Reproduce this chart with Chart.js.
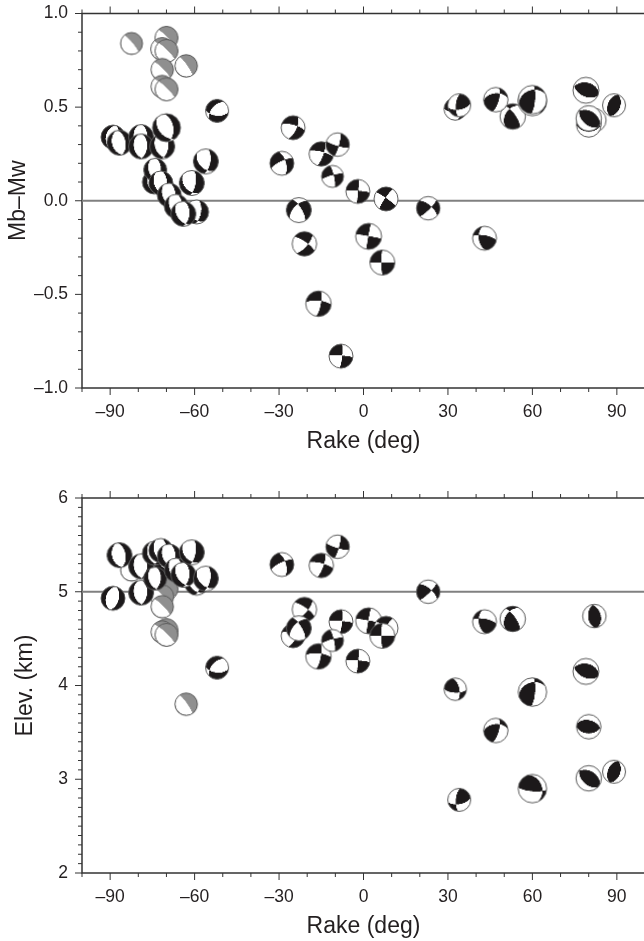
<!DOCTYPE html>
<html>
<head>
<meta charset="utf-8">
<script src="https://cdn.jsdelivr.net/npm/chart.js@4"></script>
<style>
  html, body { margin: 0; padding: 0; background: #fff; overflow: hidden; }
  body { width: 644px; height: 941px; position: relative; }
  canvas { position: absolute; left: 0; }
  #mbChart { top: 0; }
  #elevChart { top: 470px; }
</style>
</head>
<body>
<canvas id="mbChart"></canvas>
<canvas id="elevChart"></canvas>
<script>
// one entry per earthquake, same order in every array (later ones draw on top)
const rake = [
  -82.4, -70, -71.5, -70, -71.5, -71.5, -70, -63,
  -89, -86.7, -79, -79, -71.5, -70, -74.3, -74, -72, -69, -66.5, -59.3, -64, -61, -56, -52,
  -25, -29, -15, -9.2, -2, 1.8, 8, 23, -21, -23, -8, -16, -11, 6.7,
  32.6, 34, 43, 53, 47, 60, 60, 79, 82, 80, 80, 89
];
const mbMw = [
  0.84, 0.87, 0.81, 0.80, 0.70, 0.61, 0.595, 0.72,
  0.34, 0.31, 0.34, 0.29, 0.29, 0.39, 0.10, 0.165, 0.095, 0.03, -0.03, -0.06, -0.07, 0.095, 0.21, 0.48,
  0.39, 0.20, 0.25, 0.30, 0.05, -0.19, 0.01, -0.04, -0.23, -0.05, -0.83, -0.55, 0.13, -0.33,
  0.49, 0.51, -0.20, 0.45, 0.54, 0.53, 0.54, 0.59, 0.43, 0.405, 0.44, 0.51
];
const elev = [
  5.23, 5.03, 4.95, 4.59, 4.84, 4.57, 4.54, 3.80,
  4.93, 5.39, 4.99, 5.27, 5.39, 5.34, 5.41, 5.14, 5.44, 5.38, 5.23, 5.09, 5.18, 5.42, 5.14, 4.19,
  4.53, 5.29, 5.28, 5.48, 4.26, 4.69, 4.61, 5.00, 4.81, 4.61, 4.68, 4.31, 4.48, 4.53,
  3.96, 2.78, 4.68, 4.71, 3.52, 2.90, 3.93, 4.15, 4.74, 3.56, 3.01, 3.08
];
const strike = [
  320, 315, 315, 315, 315, 315, 315, 325,
  15, 350, 5, 5, 5, 350, 5, 5, 5, 5, 5, 10, 5, 10, 10, 95,
  285, 245, 285, 15, 275, 280, 305, 45, 305, 225, 275, 275, 255, 270,
  92, 185, 280, 325, 15, 95, 5, 280, 345, 90, 300, 20
];
const dip = [
  82, 82, 82, 82, 82, 82, 82, 82,
  50, 50, 50, 50, 50, 50, 50, 50, 50, 50, 50, 60, 50, 65, 60, 55,
  70, 75, 75, 80, 85, 88, 85, 80, 75, 55, 85, 70, 80, 88,
  65, 65, 70, 72, 70, 75, 75, 40, 45, 45, 42, 45
];
const mw = [
  5.5, 5.6, 5.6, 5.6, 5.55, 5.55, 5.6, 5.55,
  5.7, 5.8, 5.8, 5.8, 5.8, 6.1, 5.7, 5.6, 5.7, 5.7, 5.7, 5.7, 5.8, 5.8, 5.8, 5.6,
  5.7, 5.7, 5.75, 5.65, 5.7, 5.9, 5.7, 5.65, 5.75, 5.8, 5.7, 5.85, 5.5, 5.8,
  5.55, 5.6, 5.7, 5.85, 5.75, 6.15, 6.15, 5.9, 5.65, 5.75, 5.85, 5.6
];
const eventClass = rake.map((r, i) => i < 8 ? "gray" : "black");

const xTicksMajor = 30;
const mbRefLine = 0;
const elevRefLine = 5;
const grayBallRake = -88; // gray balls show no visible auxiliary plane

const deg = Math.PI / 180;

// lower hemisphere equal-area focal mechanism
function makeBall(str, dp, rk, radius, color) {
  const ss = 4;
  const size = 2 * Math.ceil(radius) + 4;
  const big = document.createElement("canvas");
  big.width = big.height = size * ss;
  const bctx = big.getContext("2d");
  bctx.fillStyle = "#fff";
  bctx.beginPath();
  bctx.arc(size * ss / 2, size * ss / 2, radius * ss, 0, Math.PI * 2);
  bctx.fill();

  const f = str * deg, d = dp * deg, l = rk * deg;
  const n = [-Math.sin(d) * Math.sin(f), Math.sin(d) * Math.cos(f), -Math.cos(d)];
  const s = [
    Math.cos(l) * Math.cos(f) + Math.cos(d) * Math.sin(l) * Math.sin(f),
    Math.cos(l) * Math.sin(f) - Math.cos(d) * Math.sin(l) * Math.cos(f),
    -Math.sin(d) * Math.sin(l)
  ];
  bctx.fillStyle = color;
  const c = size * ss / 2;
  const R = radius * ss;
  for (let py = 0; py < size * ss; py++) {
    for (let px = 0; px < size * ss; px++) {
      const e = (px + 0.5 - c) / R, no = (c - py - 0.5) / R;
      const rr = Math.hypot(e, no);
      if (rr > 1) continue;
      const inc = 2 * Math.asin(rr / Math.SQRT2);
      const az = Math.atan2(e, no);
      const g = [Math.sin(inc) * Math.cos(az), Math.sin(inc) * Math.sin(az), Math.cos(inc)];
      const a = g[0] * n[0] + g[1] * n[1] + g[2] * n[2];
      const b = g[0] * s[0] + g[1] * s[1] + g[2] * s[2];
      if (a * b > 0) bctx.fillRect(px, py, 1, 1);
    }
  }

  const out = document.createElement("canvas");
  out.width = out.height = size;
  const ctx = out.getContext("2d");
  ctx.drawImage(big, 0, 0, size, size);
  ctx.strokeStyle = "#5a5a5a";
  ctx.lineWidth = 1;
  ctx.beginPath();
  ctx.arc(size / 2, size / 2, radius, 0, Math.PI * 2);
  ctx.stroke();
  return out;
}

const balls = rake.map((r, i) => {
  const radius = 11 + (mw[i] - 5.5) * 5;
  const gray = eventClass[i] === "gray";
  return makeBall(strike[i], dip[i], gray ? grayBallRake : r, radius, gray ? "#8f8f8f" : "#1c191a");
});

const isMultiple = (v, step) => Math.abs(v / step - Math.round(v / step)) < 1e-6;

const framePlugin = {
  id: "frame",
  beforeDatasetsDraw(chart, args, opts) {
    const { ctx, chartArea: a, scales } = chart;
    ctx.save();
    ctx.strokeStyle = "#333";
    ctx.lineWidth = 1.5;
    ctx.strokeRect(a.left, a.top, a.right - a.left, a.bottom - a.top);
    ctx.lineWidth = 1;
    ctx.beginPath();
    scales.x.ticks.forEach(t => {
      const x = scales.x.getPixelForValue(t.value);
      const len = isMultiple(t.value, xTicksMajor) ? 7 : 4;
      ctx.moveTo(x, a.bottom);
      ctx.lineTo(x, a.bottom + len);
      ctx.moveTo(x, a.top);
      ctx.lineTo(x, a.top - len);
    });
    scales.y.ticks.forEach(t => {
      const y = scales.y.getPixelForValue(t.value);
      const len = isMultiple(t.value, opts.yMajor) ? 7 : 4;
      ctx.moveTo(a.left, y);
      ctx.lineTo(a.left - len, y);
    });
    ctx.stroke();
    ctx.restore();
  }
};

// scale boxes are fixed so both plot areas land where the reference has them
function fixBox(s, w, h) {
  if (w) s.width = w;
  if (h) s.height = h;
  s.paddingLeft = s.paddingRight = s.paddingTop = s.paddingBottom = 0;
}

function makePanel(id, cfg) {
  const canvas = document.getElementById(id);
  canvas.width = 650;
  canvas.height = cfg.height;
  const font = { family: "'Liberation Sans', Arial, sans-serif", size: 17.5 };
  const titleFont = { family: "'Liberation Sans', Arial, sans-serif", size: 23 };
  return new Chart(canvas, {
    type: "scatter",
    data: {
      datasets: [
        {
          data: rake.map((r, i) => ({ x: r, y: cfg.values[i] })),
          pointStyle: c => balls[c.dataIndex] || "circle",
          pointRadius: 12,
          order: 1
        },
        {
          type: "line",
          data: [{ x: -100, y: cfg.refLine }, { x: 100, y: cfg.refLine }],
          borderColor: "#808080",
          borderWidth: 2,
          pointRadius: 0,
          order: 2
        }
      ]
    },
    options: {
      responsive: false,
      maintainAspectRatio: false,
      animation: false,
      devicePixelRatio: 1,
      events: [],
      layout: { autoPadding: false, padding: { top: cfg.top, right: 5, left: 0, bottom: 0 } },
      plugins: {
        legend: { display: false },
        tooltip: { enabled: false },
        frame: { yMajor: cfg.yMajor }
      },
      scales: {
        x: {
          type: "linear",
          min: -100,
          max: 100,
          grid: { display: false, drawTicks: false },
          border: { display: false },
          afterFit: s => fixBox(s, 0, cfg.xAxisHeight),
          ticks: {
            stepSize: 10,
            autoSkip: false,
            maxRotation: 0,
            padding: 14,
            color: "#231f20",
            font: font,
            callback: v => isMultiple(v, xTicksMajor) && Math.abs(v) <= 90
              ? String(v).replace("-", "–") : ""
          },
          title: {
            display: true,
            text: "Rake (deg)",
            color: "#231f20",
            font: titleFont,
            padding: { top: 0, bottom: cfg.xTitlePad }
          }
        },
        y: {
          type: "linear",
          min: cfg.yMin,
          max: cfg.yMax,
          grid: { display: false, drawTicks: false },
          border: { display: false },
          afterFit: s => fixBox(s, 82, 0),
          ticks: {
            stepSize: 0.1,
            autoSkip: false,
            padding: 14,
            color: "#231f20",
            font: font,
            callback: v => isMultiple(v, cfg.yMajor)
              ? v.toFixed(cfg.yDigits).replace("-", "–") : ""
          },
          title: {
            display: true,
            text: cfg.yTitle,
            color: "#231f20",
            font: titleFont,
            padding: { top: cfg.yTitlePad, bottom: 0 }
          }
        }
      }
    },
    plugins: [framePlugin]
  });
}

makePanel("mbChart", {
  height: 460, top: 13.5, xAxisHeight: 72, xTitlePad: 5,
  values: mbMw, refLine: mbRefLine,
  yMin: -1, yMax: 1, yMajor: 0.5, yDigits: 1,
  yTitle: "Mb–Mw", yTitlePad: 5
});
makePanel("elevChart", {
  height: 471, top: 28, xAxisHeight: 68, xTitlePad: 1,
  values: elev, refLine: elevRefLine,
  yMin: 2, yMax: 6, yMajor: 1, yDigits: 0,
  yTitle: "Elev. (km)", yTitlePad: 12
});
</script>
</body>
</html>
